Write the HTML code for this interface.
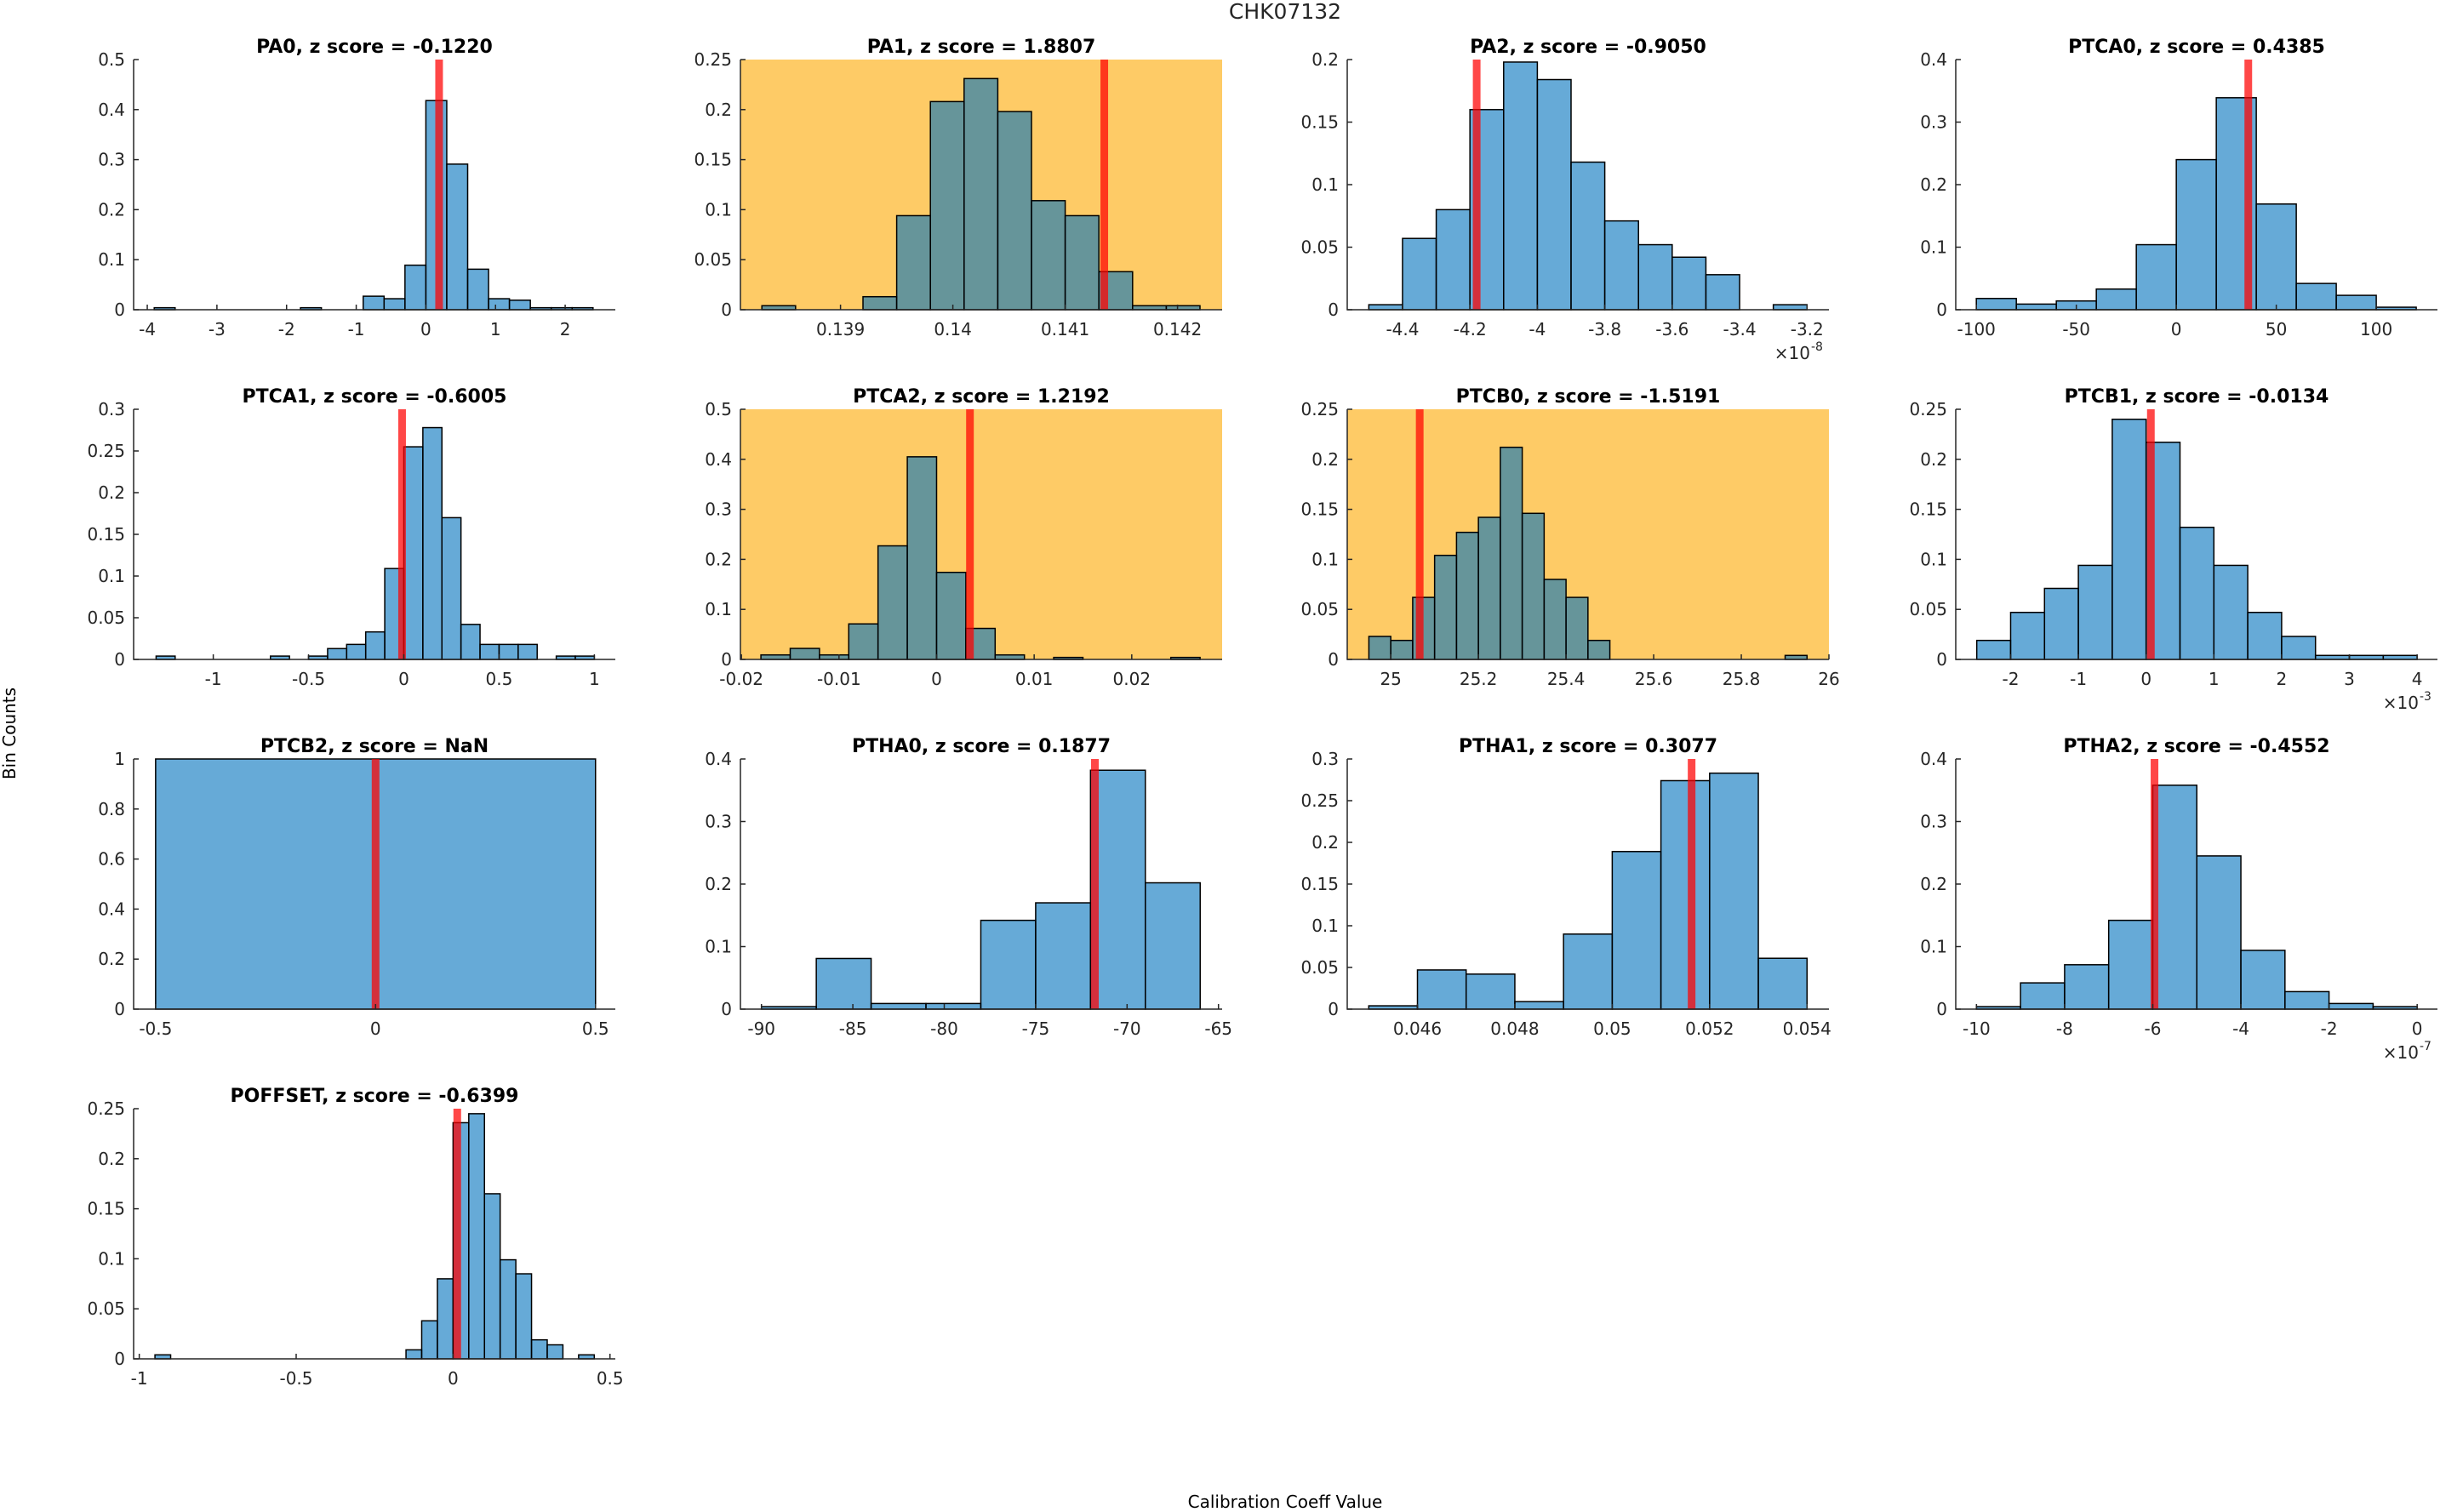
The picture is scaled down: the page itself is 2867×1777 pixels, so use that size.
<!DOCTYPE html>
<html><head><meta charset="utf-8"><title>CHK07132</title>
<style>
html,body{margin:0;padding:0;background:#fff;}
svg{display:block;font-family:"DejaVu Sans","Liberation Sans",sans-serif;}
</style></head>
<body>
<svg id="fig" xmlns="http://www.w3.org/2000/svg" width="2867" height="1777" viewBox="0 0 2867 1777">
<rect x="0" y="0" width="2867" height="1777" fill="#ffffff"/>
<text x="1510" y="22" text-anchor="middle" font-size="25" fill="#262626">CHK07132</text>
<text x="0" y="0" transform="translate(18,862) rotate(-90)" text-anchor="middle" font-size="20" fill="#000">Bin Counts</text>
<text x="1510" y="1772" text-anchor="middle" font-size="20" fill="#000">Calibration Coeff Value</text>
</svg>
<script>
// ---- data ----
const pa0Counts = [0.004,0,0,0,0,0,0,0.004,0,0,0.027,0.022,0.089,0.418,0.291,0.081,0.022,0.019,0.004,0.004,0.004];
const pa1Counts = [0.004,0,0,0.013,0.094,0.208,0.231,0.198,0.109,0.094,0.038,0.004,0.004];
const pa2Counts = [0.004,0.057,0.080,0.160,0.198,0.184,0.118,0.071,0.052,0.042,0.028,0,0.004];
const ptca0Counts = [0.018,0.009,0.014,0.033,0.104,0.240,0.339,0.169,0.042,0.023,0.004];
const ptca1Counts = [0.004,0,0,0,0,0,0.004,0,0.004,0.013,0.018,0.033,0.109,0.255,0.278,0.170,0.042,0.018,0.018,0.018,0,0.004,0.004];
const ptca2Counts = [0.009,0.022,0.009,0.071,0.227,0.405,0.174,0.062,0.009,0,0.004,0,0,0,0.004];
const ptcb0Counts = [0.023,0.019,0.062,0.104,0.127,0.142,0.212,0.146,0.080,0.062,0.019,0,0,0,0,0,0,0,0,0.004];
const ptcb1Counts = [0.019,0.047,0.071,0.094,0.240,0.217,0.132,0.094,0.047,0.023,0.004,0.004,0.004];
const ptcb2Counts = [1];
const ptha0Counts = [0.004,0.081,0.009,0.009,0.142,0.170,0.382,0.202];
const ptha1Counts = [0.004,0.047,0.042,0.009,0.090,0.189,0.274,0.283,0.061];
const ptha2Counts = [0.004,0.042,0.071,0.142,0.358,0.245,0.094,0.028,0.009,0.004];
const poffsetCounts = [0.004,0,0,0,0,0,0,0,0,0,0,0,0,0,0,0,0.009,0.038,0.080,0.236,0.245,0.165,0.099,0.085,0.019,0.014,0,0.004];

const panelNames = ["PA0","PA1","PA2","PTCA0","PTCA1","PTCA2","PTCB0","PTCB1","PTCB2","PTHA0","PTHA1","PTHA2","POFFSET"];
const zScores = ["-0.1220","1.8807","-0.9050","0.4385","-0.6005","1.2192","-1.5191","-0.0134","NaN","0.1877","0.3077","-0.4552","-0.6399"];
const binStarts = [-3.9,0.1383,-4.5,-100,-1.3,-0.018,24.95,-2.5,-0.5,-90,0.045,-10,-0.95];
const binWidths = [0.3,0.0003,0.1,20,0.1,0.003,0.05,0.5,1,3,0.001,1,0.05];
const markerValues = [0.19,0.141348,-4.18,36,-0.009,0.00342,25.066,0.07,0,-71.76,0.05163,-5.96,0.0133];
const highlighted = [false,true,false,false,false,true,true,false,false,false,false,false,false];
const xLimits = [[-4.196,2.72],[0.138109,0.142397],[-4.564,-3.135],[-110.3,130.6],[-1.418,1.11],[-0.0201,0.02926],[24.9006,26],[-2.81,4.30],[-0.55,0.545],[-91.15,-64.8],[0.044558,0.05445],[-10.47,0.46],[-1.018,0.517]];
const yMaxes = [0.5,0.25,0.2,0.4,0.3,0.5,0.25,0.25,1,0.4,0.3,0.4,0.25];
const yStepsList = [0.1,0.05,0.05,0.1,0.05,0.1,0.05,0.05,0.2,0.1,0.05,0.1,0.05];
const xTickLists = [
  [-4,-3,-2,-1,0,1,2],
  [0.139,0.140,0.141,0.142],
  [-4.4,-4.2,-4.0,-3.8,-3.6,-3.4,-3.2],
  [-100,-50,0,50,100],
  [-1,-0.5,0,0.5,1],
  [-0.02,-0.01,0,0.01,0.02],
  [25,25.2,25.4,25.6,25.8,26],
  [-2,-1,0,1,2,3,4],
  [-0.5,0,0.5],
  [-90,-85,-80,-75,-70,-65],
  [0.046,0.048,0.050,0.052,0.054],
  [-10,-8,-6,-4,-2,0],
  [-1,-0.5,0,0.5]
];
const exponents = [null,null,"-8",null,null,null,null,"-3",null,null,null,"-7",null];
const allCounts = [pa0Counts,pa1Counts,pa2Counts,ptca0Counts,ptca1Counts,ptca2Counts,ptcb0Counts,ptcb1Counts,ptcb2Counts,ptha0Counts,ptha1Counts,ptha2Counts,poffsetCounts];

// ---- layout ----
const colLeft = [157,870,1583,2298];
const rowTop = [70,481,892,1303];
const AW = 566, AH = 294;
const NS = "http://www.w3.org/2000/svg";
const svg = document.getElementById('fig');
function mk(tag, attrs, parent){
  const e = document.createElementNS(NS, tag);
  for (const k in attrs) e.setAttribute(k, attrs[k]);
  (parent||svg).appendChild(e);
  return e;
}
function fmt(v){ return String(parseFloat(v.toFixed(8))); }

panelNames.forEach((name, i) => {
  const L = colLeft[i % 4], T = rowTop[Math.floor(i / 4)];
  const [x0, x1] = xLimits[i];
  const yMax = yMaxes[i];
  const sx = v => L + (v - x0) / (x1 - x0) * AW;
  const sy = v => T + AH - v / yMax * AH;
  const g = mk('g', {});
  
  

  if (highlighted[i]) {
    const bg = mk('rect', {x: L, y: T, width: AW, height: AH, fill: '#fecb66'}, g);
    
    
  }
  // bars
  const counts = allCounts[i];
  counts.forEach((c, k) => {
    const a = binStarts[i] + k * binWidths[i];
    const b = a + binWidths[i];
    const r = mk('rect', {x: sx(a), y: sy(c), width: sx(b) - sx(a), height: Math.max(0, sy(0) - sy(c)),
      fill: 'rgba(0,114,189,0.6)', stroke: '#000', 'stroke-width': 1.5}, g);
    
    
  });
  // marker line
  const mx = sx(markerValues[i]);
  const ml = mk('line', {x1: mx, x2: mx, y1: T, y2: T + AH, stroke: 'rgba(255,0,0,0.72)', 'stroke-width': 9}, g);
  
  

  // axes
  const ax = mk('path', {d: `M${L},${T} L${L},${T+AH} L${L+AW},${T+AH}`, fill: 'none', stroke: '#262626', 'stroke-width': 1.5}, g);
  
  

  // y ticks
  const nY = Math.round(yMax / yStepsList[i]);
  for (let k = 0; k <= nY; k++) {
    const v = k * yStepsList[i];
    const y = sy(v);
    mk('line', {x1: L, x2: L + 6, y1: y, y2: y, stroke: '#262626', 'stroke-width': 1.5}, g);
    const t = mk('text', {x: L - 10, y: y + 7, 'text-anchor': 'end', 'font-size': 20, fill: '#262626'}, g);
    
    
    t.textContent = fmt(v);
  }
  // x ticks
  xTickLists[i].forEach(v => {
    const x = sx(v);
    mk('line', {x1: x, x2: x, y1: T + AH, y2: T + AH - 6, stroke: '#262626', 'stroke-width': 1.5}, g);
    const t = mk('text', {x: x, y: T + AH + 30, 'text-anchor': 'middle', 'font-size': 20, fill: '#262626'}, g);
    
    
    t.textContent = fmt(v);
  });
  // exponent
  if (exponents[i]) {
    const t = mk('text', {x: L + AW - 22, y: T + AH + 58, 'text-anchor': 'end', 'font-size': 20, fill: '#262626'}, g);
    
    
    t.textContent = '\u00d710';
    const s = mk('text', {x: L + AW - 21, y: T + AH + 48, 'text-anchor': 'start', 'font-size': 14, fill: '#262626'}, g);
    
    
    s.textContent = exponents[i];
  }
  // title
  const tt = mk('text', {x: L + AW / 2, y: T - 8, 'text-anchor': 'middle', 'font-size': 22, 'font-weight': 'bold', fill: '#000'}, g);
  
  
  tt.textContent = name + ', z score = ' + zScores[i];
});
</script>
</body></html>
